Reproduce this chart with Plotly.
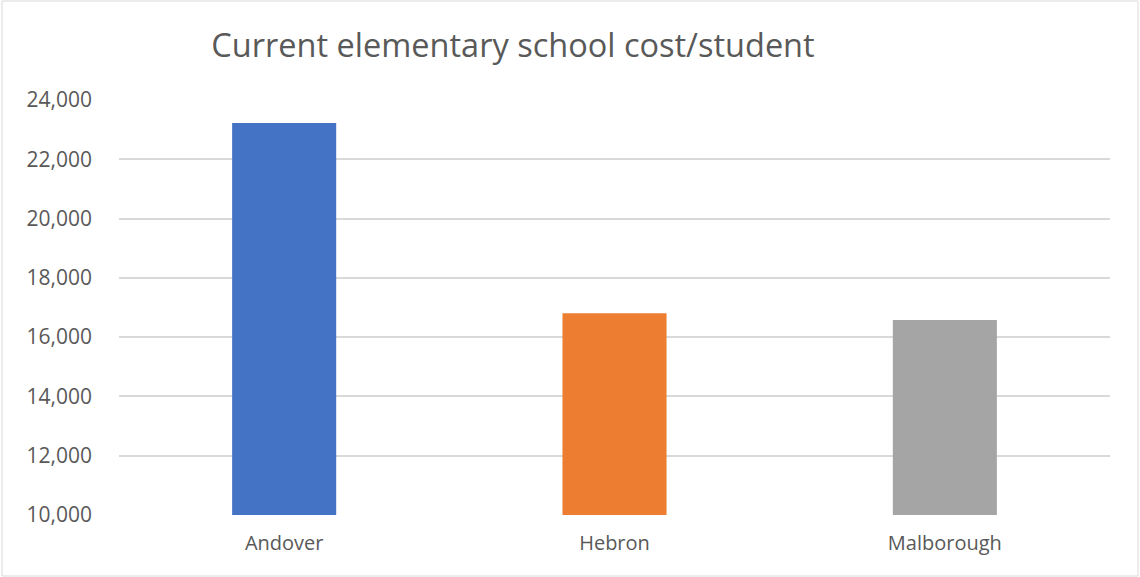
import plotly.graph_objects as go

# Elementary school cost per student by town
towns = ["Andover", "Hebron", "Malborough"]
cost_per_student = [23220, 16810, 16580]
bar_colors = ["#4472C4", "#ED7D31", "#A5A5A5"]
y_ticks = [10000, 12000, 14000, 16000, 18000, 20000, 22000, 24000]

text_color = "#595959"
grid_color = "#D9D9D9"

fig = go.Figure(
    go.Bar(
        x=towns,
        y=cost_per_student,
        marker=dict(color=bar_colors, line=dict(width=0)),
        base=0,
    )
)

fig.update_layout(
    width=1140,
    height=577,
    margin=dict(l=119, r=30, t=100, b=62),
    paper_bgcolor="white",
    plot_bgcolor="white",
    bargap=0.685,
    showlegend=False,
    font=dict(family="Open Sans", color=text_color),
    title=dict(
        text="Current elementary school cost/student",
        font=dict(family="Open Sans", size=32.5, color=text_color),
        x=0.45,
        xanchor="center",
        xref="container",
        y=1 - 46 / 577,
        yanchor="middle",
        yref="container",
    ),
    xaxis=dict(
        showgrid=False,
        showline=False,
        ticks="",
        tickfont=dict(size=20, color=text_color),
        ticklabelstandoff=14,
    ),
    yaxis=dict(
        range=[10000, 24000],
        tickvals=y_ticks,
        tickformat=",",
        showgrid=True,
        gridcolor=grid_color,
        gridwidth=1.6,
        zeroline=False,
        showline=False,
        ticks="",
        tickfont=dict(size=21, color=text_color),
        ticklabelstandoff=26,
    ),
    shapes=[
        dict(
            type="rect",
            xref="paper",
            yref="paper",
            x0=(2 - 119) / 991,
            x1=(1138 - 119) / 991,
            y0=(515 - 576) / 415,
            y1=(515 - 1) / 415,
            line=dict(color=grid_color, width=1),
            fillcolor="rgba(0,0,0,0)",
            layer="below",
        )
    ],
)

fig.write_html("out.html")
